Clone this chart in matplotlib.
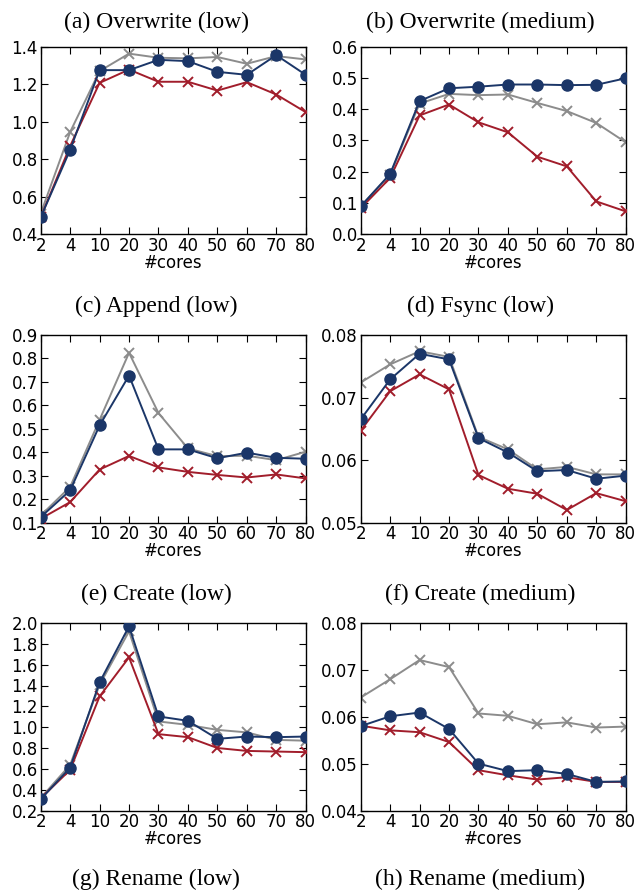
import matplotlib
matplotlib.use('Agg')
import matplotlib.pyplot as plt

# x categories (equally spaced)
cores = ['2', '4', '10', '20', '30', '40', '50', '60', '70', '80']

# (a) Overwrite (low)
ow_low_blue = [0.49, 0.85, 1.275, 1.275, 1.33, 1.323, 1.266, 1.25, 1.355, 1.25]
ow_low_gray = [0.51, 0.945, 1.27, 1.363, 1.341, 1.338, 1.345, 1.309, 1.35, 1.332]
ow_low_red = [0.49, 0.87, 1.207, 1.278, 1.213, 1.213, 1.166, 1.211, 1.145, 1.051]

# (b) Overwrite (medium)
ow_med_blue = [0.089, 0.193, 0.426, 0.467, 0.472, 0.479, 0.479, 0.477, 0.478, 0.499]
ow_med_gray = [0.09, 0.19, 0.418, 0.449, 0.445, 0.447, 0.42, 0.394, 0.356, 0.294]
ow_med_red = [0.083, 0.18, 0.38, 0.415, 0.358, 0.326, 0.248, 0.217, 0.105, 0.073]

# (c) Append (low)
ap_low_blue = [0.123, 0.237, 0.514, 0.727, 0.412, 0.412, 0.374, 0.398, 0.376, 0.372]
ap_low_gray = [0.13, 0.252, 0.538, 0.824, 0.567, 0.416, 0.383, 0.385, 0.366, 0.402]
ap_low_red = [0.116, 0.187, 0.326, 0.384, 0.335, 0.316, 0.303, 0.292, 0.305, 0.288]

# (d) Fsync (low)
fs_low_blue = [0.0665, 0.0729, 0.0770, 0.0761, 0.0635, 0.0612, 0.0582, 0.0584, 0.0570, 0.0575]
fs_low_gray = [0.0724, 0.0753, 0.0774, 0.0765, 0.0637, 0.0617, 0.0585, 0.0589, 0.0577, 0.0577]
fs_low_red = [0.0647, 0.0710, 0.0737, 0.0713, 0.0576, 0.0554, 0.0546, 0.0520, 0.0547, 0.0534]

# (e) Create (low)
cr_low_blue = [0.308, 0.612, 1.43, 1.968, 1.103, 1.061, 0.888, 0.91, 0.904, 0.91]
cr_low_gray = [0.32, 0.638, 1.407, 1.92, 1.055, 1.022, 0.974, 0.95, 0.878, 0.87]
cr_low_red = [0.317, 0.59, 1.295, 1.67, 0.933, 0.904, 0.8, 0.772, 0.766, 0.76]

# (f) Create (medium)
cr_med_blue = [0.058, 0.0601, 0.0609, 0.0574, 0.0500, 0.0484, 0.0486, 0.0478, 0.0461, 0.0462]
cr_med_gray = [0.0641, 0.0680, 0.0721, 0.0706, 0.0607, 0.0602, 0.0584, 0.0588, 0.0577, 0.0579]
cr_med_red = [0.0581, 0.0571, 0.0567, 0.0546, 0.0486, 0.0475, 0.0466, 0.0471, 0.0461, 0.0461]

titles = ['(a) Overwrite (low)', '(b) Overwrite (medium)',
          '(c) Append (low)', '(d) Fsync (low)',
          '(e) Create (low)', '(f) Create (medium)',
          '(g) Rename (low)', '(h) Rename (medium)']

panels = [
    (ow_low_blue, ow_low_gray, ow_low_red, (0.4, 1.4), [0.4, 0.6, 0.8, 1.0, 1.2, 1.4], '%.1f'),
    (ow_med_blue, ow_med_gray, ow_med_red, (0.0, 0.6), [0.0, 0.1, 0.2, 0.3, 0.4, 0.5, 0.6], '%.1f'),
    (ap_low_blue, ap_low_gray, ap_low_red, (0.1, 0.9), [0.1, 0.2, 0.3, 0.4, 0.5, 0.6, 0.7, 0.8, 0.9], '%.1f'),
    (fs_low_blue, fs_low_gray, fs_low_red, (0.05, 0.08), [0.05, 0.06, 0.07, 0.08], '%.2f'),
    (cr_low_blue, cr_low_gray, cr_low_red, (0.2, 2.0), [0.2, 0.4, 0.6, 0.8, 1.0, 1.2, 1.4, 1.6, 1.8, 2.0], '%.1f'),
    (cr_med_blue, cr_med_gray, cr_med_red, (0.04, 0.08), [0.04, 0.05, 0.06, 0.07, 0.08], '%.2f'),
]

BLUE = '#1b3668'
RED = '#a11d2b'
GRAY = '#8c8c8c'

W, H = 636, 894
fig = plt.figure(figsize=(W / 100, H / 100), dpi=100)

lefts = [40.7, 360.7]
tops = [46.7, 335.0, 623.0]
ax_w, ax_h = 265.0, 187.5

# caption positions (pixels)
title_x = [156, 480]
title_y = [22, 306, 594, 879]

x = list(range(len(cores)))
for i, (blue, gray, red, ylim, yticks, fmt) in enumerate(panels):
    row, col = divmod(i, 2)
    l = lefts[col]
    t = tops[row]
    ax = fig.add_axes([l / W, 1 - (t + ax_h) / H, ax_w / W, ax_h / H])
    ax.plot(x, gray, '-x', color=GRAY, lw=1.4, ms=7.5, mew=1.4, zorder=2)
    ax.plot(x, red, '-x', color=RED, lw=1.4, ms=7.5, mew=1.4, zorder=3)
    ax.plot(x, blue, '-o', color=BLUE, lw=1.4, ms=8, zorder=4)
    ax.set_xlim(0, len(cores) - 1)
    ax.set_ylim(*ylim)
    ax.set_xticks(x)
    ax.set_xticklabels(cores)
    ax.set_yticks(yticks)
    ax.set_yticklabels([fmt % v for v in yticks])
    ax.tick_params(direction='in', top=True, right=True, length=5, labelsize=12, pad=2)
    ax.set_xlabel('#cores', fontsize=12, labelpad=-1)
    for s in ax.spines.values():
        s.set_linewidth(1.0)

for i, txt in enumerate(titles):
    row, col = divmod(i, 2)
    fig.text(title_x[col] / W, 1 - title_y[row] / H, txt,
             ha='center', va='center', fontsize=17, family='Liberation Serif')

fig.savefig('out.png', dpi=100)
